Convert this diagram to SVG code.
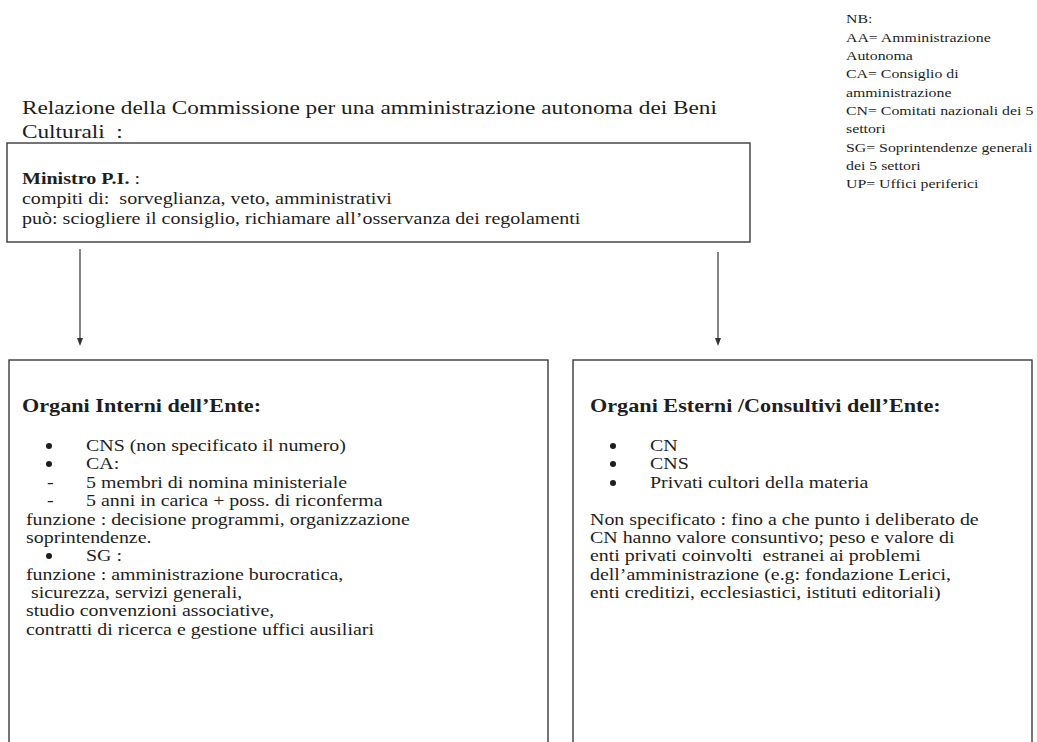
<svg xmlns="http://www.w3.org/2000/svg" width="1037" height="742" viewBox="0 0 1037 742">
<style>
text{font-family:"Liberation Serif","Times New Roman","DejaVu Serif",serif;fill:#1e1e1e}
.t{font-size:19.4px}
.m{font-size:16.7px}
.b{font-size:16.6px}
.h{font-size:18.5px;font-weight:bold}
.n{font-size:13.2px}
.bold{font-weight:bold}
.box{fill:#fff;stroke:#3a3a3a;stroke-width:1.4}
.conn{stroke:#333;stroke-width:1.2;fill:none}
.ah{fill:#333}
.dot{fill:#1e1e1e}
</style>
<rect width="1037" height="742" fill="#fff"/>
<g id="nota">
<g transform="scale(1.2,1)">
<text class="n" x="705" y="23">NB:</text>
<text class="n" x="705" y="42">AA= Amministrazione</text>
<text class="n" x="705" y="60">Autonoma</text>
<text class="n" x="705" y="78">CA= Consiglio di</text>
<text class="n" x="705" y="97">amministrazione</text>
<text class="n" x="705" y="115">CN= Comitati nazionali dei 5</text>
<text class="n" x="705" y="133">settori</text>
<text class="n" x="705" y="152">SG= Soprintendenze generali</text>
<text class="n" x="705" y="170">dei 5 settori</text>
<text class="n" x="705" y="188">UP= Uffici periferici</text>
</g>
</g>
<g id="titolo">
<g transform="scale(1.2,1)">
<text class="t" x="18.33" y="114">Relazione della Commissione per una amministrazione autonoma dei Beni</text>
<text class="t" x="18.33" y="138">Culturali&#160; :</text>
</g>
</g>
<g id="ministro">
<rect class="box" x="7" y="143" width="743" height="99"/>
<g transform="scale(1.2,1)">
<text class="m" x="18.33" y="184"><tspan class="bold">Ministro P.I.</tspan> :</text>
<text class="m" x="18.33" y="204">compiti di:&#160; sorveglianza, veto, amministrativi</text>
<text class="m" x="18.33" y="224">può: sciogliere il consiglio, richiamare all’osservanza dei regolamenti</text>
</g>
</g>
<g id="connettori">
<line class="conn" x1="80" y1="249" x2="80" y2="339"/>
<polygon class="ah" points="77,338 83,338 80,346"/>
<line class="conn" x1="718" y1="252" x2="718" y2="339"/>
<polygon class="ah" points="715,338 721,338 718,346"/>
</g>
<g id="interni">
<rect class="box" x="9" y="360" width="539" height="400"/>
<circle class="dot" cx="49" cy="446" r="3"/>
<circle class="dot" cx="49" cy="464" r="3"/>
<circle class="dot" cx="49" cy="556" r="3"/>
<g transform="scale(1.2,1)">
<text class="h" x="18.33" y="412">Organi Interni dell’Ente:</text>
<text class="b" x="71.67" y="451">CNS (non specificato il numero)</text>
<text class="b" x="71.67" y="469">CA:</text>
<text class="b" x="39.17" y="488">-</text><text class="b" x="71.67" y="488">5 membri di nomina ministeriale</text>
<text class="b" x="39.17" y="506">-</text><text class="b" x="71.67" y="506">5 anni in carica + poss. di riconferma</text>
<text class="b" x="21.67" y="525">funzione : decisione programmi, organizzazione</text>
<text class="b" x="21.67" y="543">soprintendenze.</text>
<text class="b" x="71.67" y="561">SG :</text>
<text class="b" x="21.67" y="580">funzione : amministrazione burocratica,</text>
<text class="b" x="21.67" y="598">&#160;sicurezza, servizi generali,</text>
<text class="b" x="21.67" y="616">studio convenzioni associative,</text>
<text class="b" x="21.67" y="635">contratti di ricerca e gestione uffici ausiliari</text>
</g>
</g>
<g id="esterni">
<rect class="box" x="573" y="360" width="459" height="400"/>
<circle class="dot" cx="613" cy="446" r="3"/>
<circle class="dot" cx="613" cy="464" r="3"/>
<circle class="dot" cx="613" cy="483" r="3"/>
<g transform="scale(1.2,1)">
<text class="h" x="491.67" y="412">Organi Esterni /Consultivi dell’Ente:</text>
<text class="b" x="541.67" y="451">CN</text>
<text class="b" x="541.67" y="469">CNS</text>
<text class="b" x="541.67" y="488">Privati cultori della materia</text>
<text class="b" x="491.67" y="525">Non specificato : fino a che punto i deliberato de</text>
<text class="b" x="491.67" y="543">CN hanno valore consuntivo; peso e valore di</text>
<text class="b" x="491.67" y="561">enti privati coinvolti&#160; estranei ai problemi</text>
<text class="b" x="491.67" y="580">dell’amministrazione (e.g: fondazione Lerici,</text>
<text class="b" x="491.67" y="598">enti creditizi, ecclesiastici, istituti editoriali)</text>
</g>
</g>
</svg>
